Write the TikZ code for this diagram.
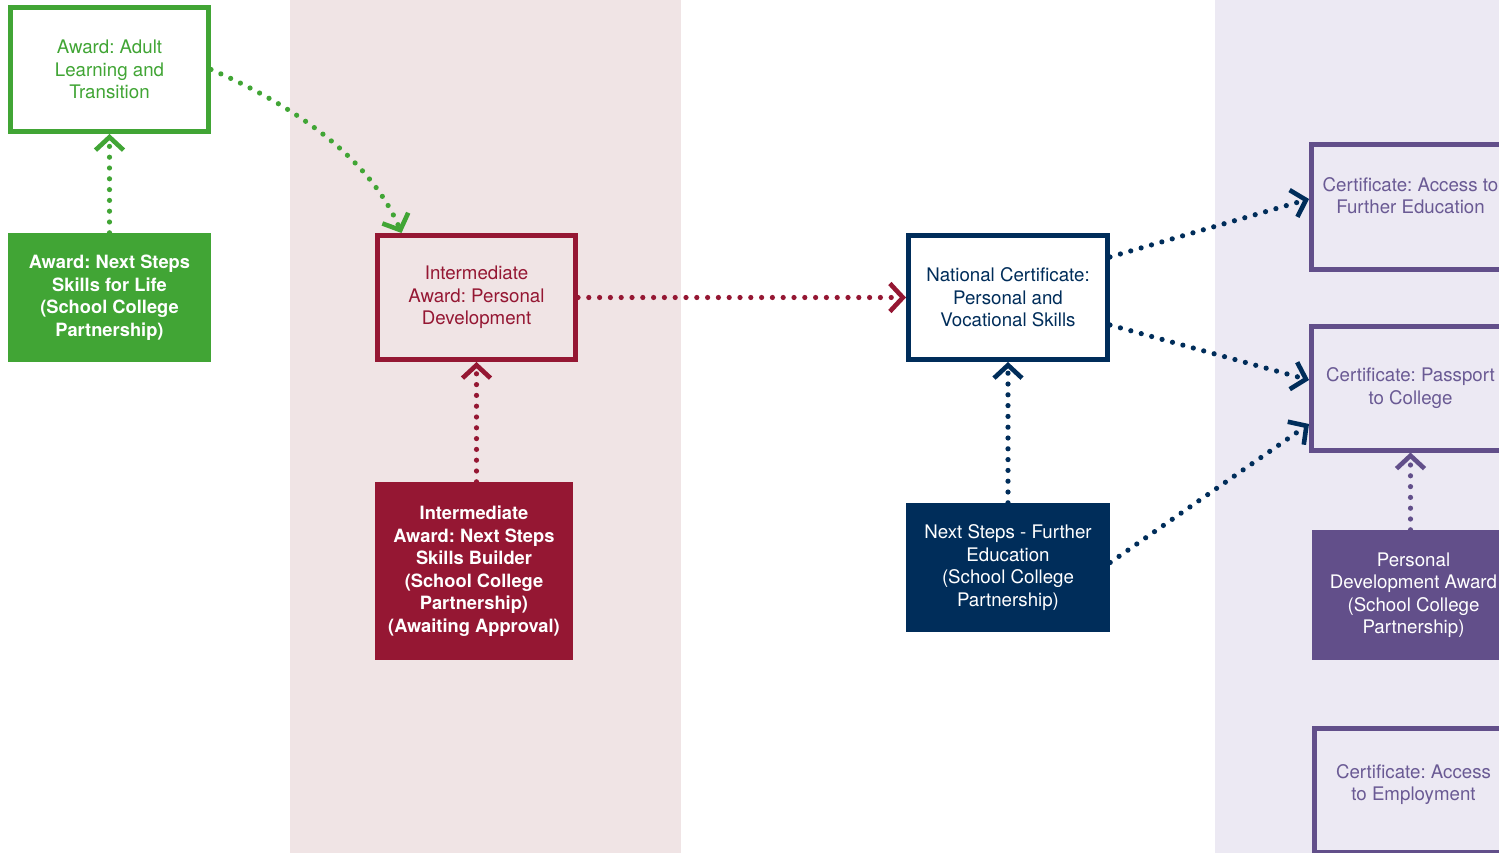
\documentclass[tikz,border=0pt]{standalone}
\usepackage{fontspec}
\setmainfont{TeX Gyre Heros}
\usetikzlibrary{arrows.meta}
\definecolor{cgreen}{HTML}{41A535}
\definecolor{cmaroon}{HTML}{951733}
\definecolor{cnavy}{HTML}{002D5A}
\definecolor{cpurple}{HTML}{624F8A}
\definecolor{cpurpletext}{HTML}{6A5A94}
\definecolor{cpink}{HTML}{F0E4E5}
\definecolor{clav}{HTML}{ECE9F3}
\frenchspacing
\begin{document}
\begin{tikzpicture}[x=1pt,y=-1pt,
  base/.style={rectangle, align=center, inner sep=0pt, font=\fontsize{18.7}{22.5}\selectfont},
  outbox/.style={base, draw=#1, line width=5pt, minimum width=198pt, minimum height=124pt},
  fillbox/.style={base, fill=#1, text=white, font=\fontsize{18.3}{22.5}\selectfont\bfseries},
  plainfill/.style={base, fill=#1, text=white},
  link/.style={draw=#1, line width=5.2pt, line cap=round, dash pattern=on 0pt off 10.8pt,
    -{Straight Barb[length=13pt,width=28pt,line width=4.6pt]}}
]
\useasboundingbox (0,0) rectangle (1499,853);
\clip (0,0) rectangle (1499,853);
\fill[white] (0,0) rectangle (1499,853);
% bands
\fill[cpink] (290,0) rectangle (681,853);
\fill[clav] (1215,0) rectangle (1499,853);

% green
\node[outbox=cgreen, text=cgreen] (go) at (109.5,69.5) {Award: Adult\\Learning and\\Transition};
\node[fillbox=cgreen, minimum width=203pt, minimum height=129pt] (gf) at (109.5,297.5)
  {Award: Next Steps\\Skills for Life\\(School College\\Partnership)};

% maroon
\node[outbox=cmaroon, text=cmaroon] (mo) at (476.5,297.5) {Intermediate\\Award: Personal\\Development};
\node[fillbox=cmaroon, minimum width=198pt, minimum height=178pt] (mf) at (474,571)
  {Intermediate\\Award: Next Steps\\Skills Builder\\(School College\\Partnership)\\(Awaiting Approval)};

% navy
\node[outbox=cnavy, text=cnavy, minimum width=199pt] (no) at (1008,297.5) {National Certificate:\\Personal and\\Vocational Skills};
\node[plainfill=cnavy, minimum width=204pt, minimum height=129pt] (nf) at (1008,567.5)
  {Next Steps - Further\\Education\\(School College\\Partnership)};

% purple
\node[outbox=cpurple, text=cpurpletext] (p1) at (1410.5,207) {Certificate: Access to\\Further Education\\\mbox{}};
\node[outbox=cpurple, text=cpurpletext] (p2) at (1410.5,388) {Certificate: Passport\\to College};
\node[plainfill=cpurple, minimum width=203pt, minimum height=130pt] (pf) at (1413.5,595)
  {Personal\\Development Award\\(School College\\Partnership)};
\node[outbox=cpurple, text=cpurpletext] (p3) at (1413.5,790.5) {Certificate: Access\\to Employment\\[-7pt]\mbox{}};

% connectors
\draw[link=cgreen] (go.south |- gf.north) -- (go.south);
\draw[link=cgreen] (go.east) .. controls (300,108) and (372,162) .. ([xshift=-75pt]mo.north);
\draw[link=cmaroon] (mo.south |- mf.north) -- (mo.south);
\draw[link=cmaroon] (mo.east) -- (no.west);
\draw[link=cnavy] (no.south |- nf.north) -- (no.south);
\draw[link=cnavy] ([yshift=40.5pt]no.east) -- ([yshift=8pt]p1.west);
\draw[link=cnavy] ([yshift=-27.5pt]no.east) -- ([yshift=8pt]p2.west);
\draw[link=cnavy] ([yshift=5pt]nf.east) -- ([yshift=-36pt]p2.west);
\draw[link=cpurple] (p2.south |- pf.north) -- (p2.south);
\end{tikzpicture}
\end{document}
